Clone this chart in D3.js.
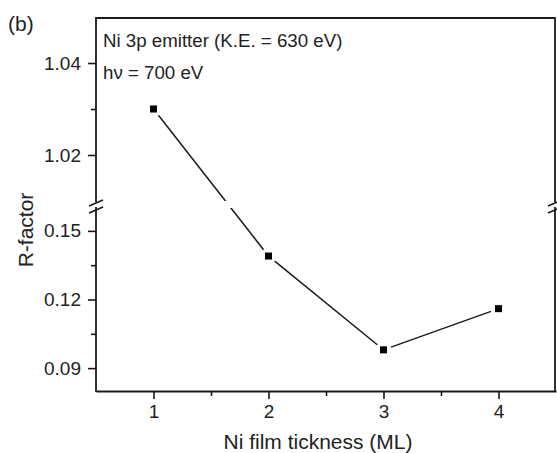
<!DOCTYPE html>
<html>
<head>
<meta charset="utf-8">
<script src="https://cdn.jsdelivr.net/npm/d3@7"></script>
<style>
  html, body { margin: 0; padding: 0; background: #fff; }
  svg { display: block; font-family: "Liberation Sans", Arial, sans-serif; }
</style>
</head>
<body>
<svg id="chart" width="557" height="453"></svg>
<script>
// R-factor versus Ni film thickness
const thickness = [1, 2, 3, 4];
const rFactor = [1.03, 0.139, 0.098, 0.116];

const xTicks = [1, 2, 3, 4];
const xMinorTicks = [1.5, 2.5, 3.5];
const upperTicks = [1.02, 1.04];
const upperMinorTicks = [1.03];
const lowerTicks = [0.09, 0.12, 0.15];
const lowerMinorTicks = [0.105, 0.135];

const upperDomain = [1.01, 1.05];
const lowerDomain = [0.08, 0.16];
const breakValue = 0.5; // values above this sit on the upper segment

const svg = d3.select("#chart");
const plotLeft = 96, plotRight = 556, plotTop = 18, plotBottom = 391;
const upperBottom = 201, lowerTop = 208;
const ink = "#1a1a1a";
const textInk = "#222";
const tickFont = "19px";

const x = d3.scaleLinear().domain([0.5, 4.5]).range([plotLeft, plotRight]);
const yUp = d3.scaleLinear().domain(upperDomain).range([upperBottom, plotTop - 1]);
const yLo = d3.scaleLinear().domain(lowerDomain).range([plotBottom, lowerTop]);
const yOf = v => (v > breakValue ? yUp(v) : yLo(v));

// clip region: both axis segments, leaving the break gap empty
const defs = svg.append("defs");
const clip = defs.append("clipPath").attr("id", "bands");
clip.append("rect").attr("x", plotLeft).attr("y", plotTop).attr("width", plotRight - plotLeft).attr("height", upperBottom - plotTop);
clip.append("rect").attr("x", plotLeft).attr("y", lowerTop).attr("width", plotRight - plotLeft).attr("height", plotBottom - lowerTop);

// axes
function styleAxis(g) {
  g.select(".domain").attr("stroke", ink).attr("stroke-width", 1.8);
  g.selectAll(".tick line").attr("stroke", ink).attr("stroke-width", 1.6);
  g.selectAll(".tick text").attr("fill", textInk).style("font-size", tickFont)
    .style("font-family", "'Liberation Sans', Arial, sans-serif");
}
function styleMinor(g) {
  g.select(".domain").remove();
  g.selectAll(".tick line").attr("stroke", ink).attr("stroke-width", 1.6);
}

const xAxis = svg.append("g").attr("transform", `translate(0,${plotBottom})`)
  .call(d3.axisBottom(x).tickValues(xTicks).tickFormat(d3.format("d")).tickSize(8).tickSizeOuter(0).tickPadding(6));
styleAxis(xAxis);
svg.append("g").attr("transform", `translate(0,${plotBottom})`)
  .call(d3.axisBottom(x).tickValues(xMinorTicks).tickFormat("").tickSize(5).tickSizeOuter(0))
  .call(styleMinor);

const yUpAxis = svg.append("g").attr("transform", `translate(${plotLeft},0)`)
  .call(d3.axisLeft(yUp).tickValues(upperTicks).tickFormat(d3.format(".2f")).tickSize(8).tickSizeOuter(0).tickPadding(7));
styleAxis(yUpAxis);
yUpAxis.select(".domain").attr("d", `M0,${plotTop - 1}V${upperBottom + 1}`);
svg.append("g").attr("transform", `translate(${plotLeft},0)`)
  .call(d3.axisLeft(yUp).tickValues(upperMinorTicks).tickFormat("").tickSize(5).tickSizeOuter(0))
  .call(styleMinor);

const yLoAxis = svg.append("g").attr("transform", `translate(${plotLeft},0)`)
  .call(d3.axisLeft(yLo).tickValues(lowerTicks).tickFormat(d3.format(".2f")).tickSize(8).tickSizeOuter(0).tickPadding(7));
styleAxis(yLoAxis);
yLoAxis.select(".domain").attr("d", `M0,${lowerTop - 1}V${plotBottom + 1}`);
svg.append("g").attr("transform", `translate(${plotLeft},0)`)
  .call(d3.axisLeft(yLo).tickValues(lowerMinorTicks).tickFormat("").tickSize(5).tickSizeOuter(0))
  .call(styleMinor);

// frame: top edge and right edge (broken like the left axis)
const frame = svg.append("g").attr("stroke", ink).attr("stroke-width", 1.8).attr("fill", "none");
frame.append("path").attr("d", `M${plotLeft},${plotTop}H${plotRight - 1}`);
frame.append("path").attr("d", `M${plotRight - 1},${plotTop - 1}V${upperBottom + 1}`);
frame.append("path").attr("d", `M${plotRight - 1},${lowerTop - 1}V${plotBottom + 1}`);

// break marks on both vertical axes
const marks = svg.append("g").attr("stroke", ink).attr("stroke-width", 1.6);
[plotLeft, plotRight - 1].forEach(ax => {
  [upperBottom + 2, lowerTop + 2].forEach(cy => {
    marks.append("line").attr("x1", ax - 7).attr("y1", cy + 3).attr("x2", ax + 7).attr("y2", cy - 3);
  });
});

// connecting line, stopping short of each marker
const pts = thickness.map((t, i) => [x(t), yOf(rFactor[i])]);
const gap = 8;
const segs = d3.pairs(pts).map(([a, b]) => {
  const dx = b[0] - a[0], dy = b[1] - a[1], L = Math.hypot(dx, dy);
  const ux = dx / L, uy = dy / L;
  return [[a[0] + ux * gap, a[1] + uy * gap], [b[0] - ux * gap, b[1] - uy * gap]];
});
svg.append("g").attr("clip-path", "url(#bands)")
  .selectAll("path").data(segs).join("path")
  .attr("d", d => d3.line()(d))
  .attr("fill", "none").attr("stroke", ink).attr("stroke-width", 1.5);

// square markers
const ms = 7;
svg.append("g").selectAll("rect").data(thickness.map((t, i) => ({ t, v: rFactor[i] }))).join("rect")
  .attr("x", d => x(d.t) - ms / 2).attr("y", d => yOf(d.v) - ms / 2)
  .attr("width", ms).attr("height", ms).attr("fill", "#000");

// text
svg.append("text").attr("x", 8).attr("y", 31).attr("fill", textInk).style("font-size", "21px").text("(b)");
svg.append("text").attr("x", 103).attr("y", 47).attr("fill", textInk).style("font-size", "18.7px")
  .text("Ni 3p emitter (K.E. = 630 eV)");
svg.append("text").attr("x", 103).attr("y", 79).attr("fill", textInk).style("font-size", "18.7px")
  .text("hν = 700 eV");
svg.append("text").attr("transform", `translate(33,230) rotate(-90)`).attr("text-anchor", "middle")
  .attr("fill", textInk).style("font-size", "21px").text("R-factor");
svg.append("text").attr("x", 318).attr("y", 449).attr("text-anchor", "middle")
  .attr("fill", textInk).style("font-size", "21px").text("Ni film tickness (ML)");
</script>
</body>
</html>
